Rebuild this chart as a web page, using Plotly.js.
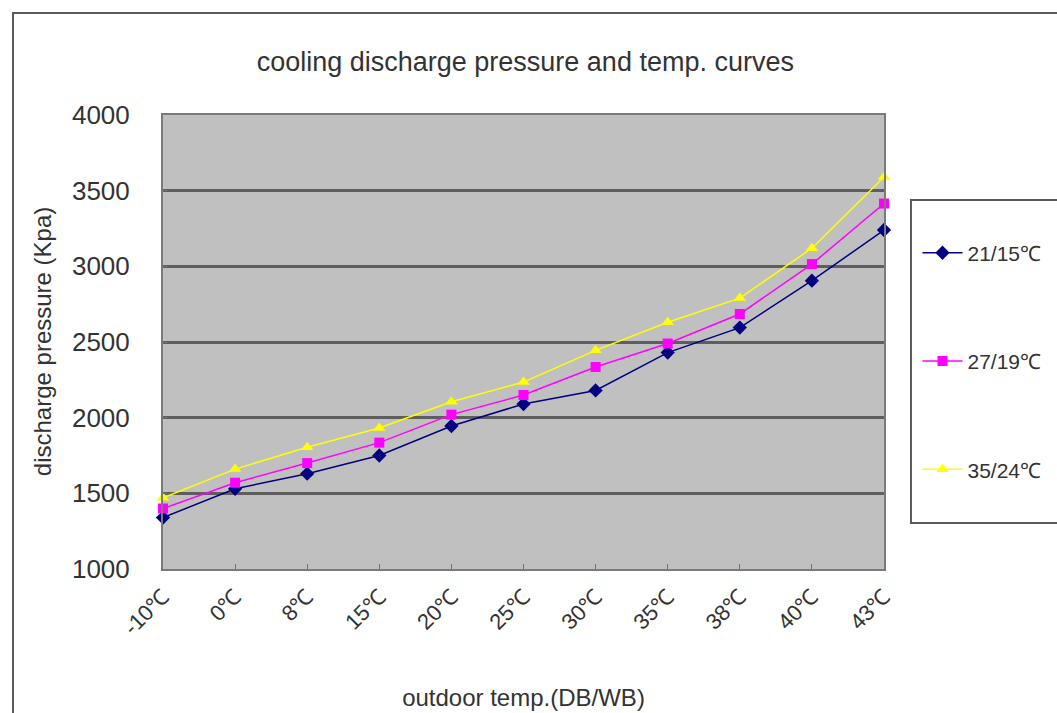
<!DOCTYPE html>
<html>
<head>
<meta charset="utf-8">
<script src="https://cdn.plot.ly/plotly-3.0.1.min.js"></script>
<style>
  html, body { margin: 0; padding: 0; background: #ffffff; width: 1057px; height: 713px; overflow: hidden; }
  #frame { position: absolute; left: 12px; top: 12px; width: 1100px; height: 760px; border: 2px solid #5a5a5a; box-sizing: border-box; }
  #chart { position: absolute; left: 0; top: 0; width: 1057px; height: 713px; }
</style>
</head>
<body>
<div id="frame"></div>
<div id="chart"></div>
<script>
const categories = ["-10℃", "0℃", "8℃", "15℃", "20℃", "25℃", "30℃", "35℃", "38℃", "40℃", "43℃"];
const seriesNames = ["21/15℃", "27/19℃", "35/24℃"];
const series2115 = [1340, 1530, 1630, 1750, 1945, 2090, 2180, 2430, 2595, 2905, 3240];
const series2719 = [1400, 1570, 1700, 1835, 2020, 2150, 2335, 2490, 2685, 3015, 3415];
const series3524 = [1470, 1660, 1805, 1932, 2105, 2235, 2445, 2630, 2790, 3120, 3590];
const yTicks = [1000, 1500, 2000, 2500, 3000, 3500, 4000];

const FONT = "Liberation Sans, Arial, sans-serif";
const styles = [
  {color: "#000080", symbol: "diamond", size: 11},
  {color: "#ff00ff", symbol: "square", size: 10},
  {color: "#ffff00", symbol: "triangle-up", size: 11}
];
const values = [series2115, series2719, series3524];

const traces = values.map((v, i) => ({
  type: "scatter",
  mode: "lines+markers",
  x: categories,
  y: v,
  name: seriesNames[i],
  legendgroup: "g" + i,
  cliponaxis: false,
  line: {color: styles[i].color, width: 1.5},
  marker: {color: styles[i].color, symbol: styles[i].symbol, size: styles[i].size}
}));

const layout = {
  width: 1057,
  height: 713,
  margin: {l: 163, r: 172, t: 115, b: 144},
  paper_bgcolor: "rgba(0,0,0,0)",
  plot_bgcolor: "#c0c0c0",
  font: {family: FONT, color: "#333333"},
  title: {
    text: "cooling discharge pressure and temp. curves",
    font: {family: FONT, size: 27, color: "#333333"},
    x: 0.497, xanchor: "center", y: 0.913, yanchor: "middle"
  },
  xaxis: {
    type: "category",
    range: [0, categories.length - 1],
    tickangle: -45,
    tickfont: {family: FONT, size: 22, color: "#333333"},
    ticks: "inside",
    ticklen: 5,
    tickcolor: "#707070",
    ticklabelstandoff: 4,
    showgrid: false,
    showline: true,
    linecolor: "#7a7a7a",
    linewidth: 2,
    mirror: true,
    title: {text: "outdoor temp.(DB/WB)", font: {family: FONT, size: 24, color: "#333333"}, standoff: 50}
  },
  yaxis: {
    range: [1000, 4000],
    tickvals: yTicks,
    tickfont: {family: FONT, size: 26, color: "#333333"},
    ticks: "inside",
    ticklen: 5,
    tickcolor: "#707070",
    ticklabelstandoff: 26,
    showgrid: true,
    gridcolor: "#5e5e5e",
    gridwidth: 3,
    zeroline: false,
    showline: true,
    linecolor: "#7a7a7a",
    linewidth: 2,
    mirror: true
  },
  annotations: [{
    text: "discharge pressure (Kpa)",
    xref: "paper", yref: "paper",
    x: -0.1676, y: 0.5,
    xanchor: "center", yanchor: "middle",
    textangle: -90,
    showarrow: false,
    font: {family: FONT, size: 24, color: "#333333"}
  }],
  showlegend: true,
  legend: {
    x: 1.045, xanchor: "left",
    y: 0.741, yanchor: "top",
    bgcolor: "rgba(0,0,0,0)",
    borderwidth: 0,
    font: {family: FONT, size: 21, color: "#333333"},
    tracegroupgap: 78,
    itemwidth: 40
  },
  shapes: [{
    type: "rect", xref: "paper", yref: "paper",
    x0: 1.0374, x1: 1.25, y0: 0.1013, y1: 0.8128,
    line: {color: "#5a5a5a", width: 2},
    fillcolor: "#ffffff",
    layer: "below"
  }]
};

Plotly.newPlot("chart", traces, layout, {displayModeBar: false, staticPlot: true});
</script>
</body>
</html>
